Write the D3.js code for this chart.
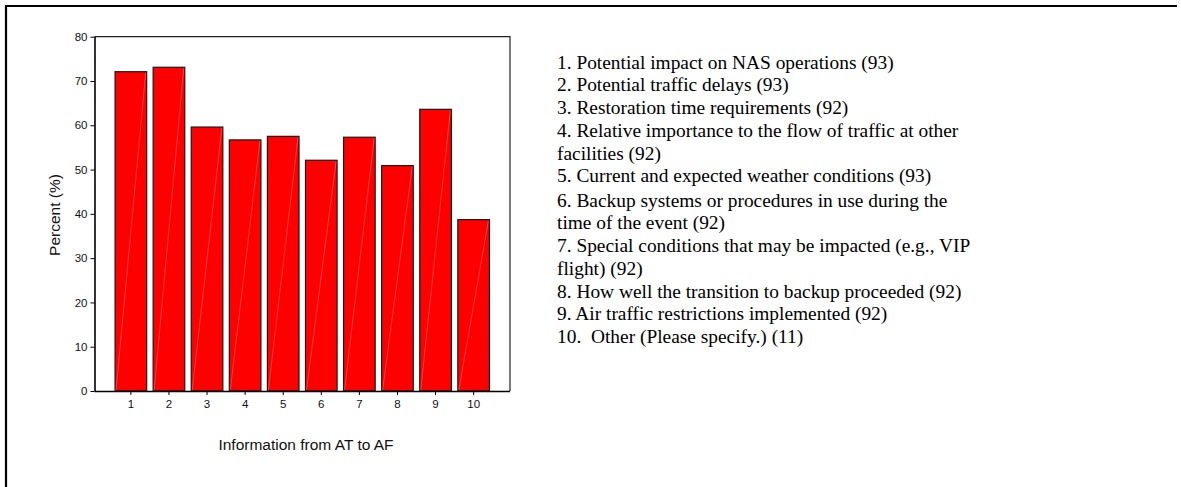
<!DOCTYPE html>
<html>
<head>
<meta charset="utf-8">
<script src="https://cdn.jsdelivr.net/npm/d3@7"></script>
<style>
  html, body { margin: 0; padding: 0; background: #fff; }
  svg { display: block; }
</style>
</head>
<body>
<svg id="chart" width="1181" height="487"></svg>
<script>
// ---- data ----
const categories = ["1", "2", "3", "4", "5", "6", "7", "8", "9", "10"];
const percentValues = [72.1, 73.1, 59.6, 56.7, 57.5, 52.1, 57.3, 50.9, 63.6, 38.7];
const yTickValues = [0, 10, 20, 30, 40, 50, 60, 70, 80];
const xAxisTitle = "Information from AT to AF";
const yAxisTitle = "Percent (%)";
// legend items, each split into its displayed lines
const legendItems = [
  ["1. Potential impact on NAS operations (93)"],
  ["2. Potential traffic delays (93)"],
  ["3. Restoration time requirements (92)"],
  ["4. Relative importance to the flow of traffic at other", "facilities (92)"],
  ["5. Current and expected weather conditions (93)"],
  ["6. Backup systems or procedures in use during the", "time of the event (92)"],
  ["7. Special conditions that may be impacted (e.g., VIP", "flight) (92)"],
  ["8. How well the transition to backup proceeded (92)"],
  ["9. Air traffic restrictions implemented (92)"],
  ["10.  Other (Please specify.) (11)"]
];

// ---- layout ----
const svg = d3.select("#chart");
const plot = { left: 94.5, right: 510, top: 36.7, bottom: 391 };
const sans = "'Liberation Sans', Arial, sans-serif";

// outer frame (top and left edges)
svg.append("path")
  .attr("d", "M6,487 L6,6 L1177,6")
  .attr("fill", "none").attr("stroke", "#000").attr("stroke-width", 2.2);

const x = d3.scaleBand().domain(categories)
  .range([plot.left, plot.right]).paddingInner(0.17).paddingOuter(0.54);
const y = d3.scaleLinear().domain([0, 80]).range([plot.bottom, plot.top]);

// plot box (top/right)
svg.append("path")
  .attr("d", `M${plot.left},${plot.top} L${plot.right},${plot.top} L${plot.right},${plot.bottom}`)
  .attr("fill", "none").attr("stroke", "#222").attr("stroke-width", 1.2);

// bars
const data = categories.map((c, i) => ({ c, v: percentValues[i] }));
const bars = svg.append("g");
bars.selectAll("rect").data(data).enter().append("rect")
  .attr("x", d => x(d.c))
  .attr("y", d => y(d.v))
  .attr("width", x.bandwidth())
  .attr("height", d => y(0) - y(d.v))
  .attr("fill", "#fe0000")
  .attr("stroke", "#1a1a1a")
  .attr("stroke-width", 1.2);
// faint diagonal artefact inside bars
bars.selectAll("line").data(data).enter().append("line")
  .attr("x1", d => x(d.c) + 1)
  .attr("y1", y(0) - 1)
  .attr("x2", d => x(d.c) + x.bandwidth() - 1)
  .attr("y2", d => y(d.v) + 1)
  .attr("stroke", "#fff").attr("stroke-opacity", 0.35).attr("stroke-width", 0.7);

// axes
const yAxis = svg.append("g")
  .attr("transform", `translate(${plot.left},0)`)
  .call(d3.axisLeft(y).tickValues(yTickValues).tickSize(4).tickPadding(3).tickFormat(d3.format("d")));
const xAxis = svg.append("g")
  .attr("transform", `translate(0,${plot.bottom})`)
  .call(d3.axisBottom(x).tickSize(4).tickPadding(5));
[yAxis, xAxis].forEach(g => {
  g.selectAll("text").attr("font-family", sans)
    .attr("font-size", 11.5).attr("fill", "#111");
  g.selectAll("line").attr("stroke", "#000");
  g.select(".domain").attr("stroke", "#000").attr("stroke-width", 1.6);
});
xAxis.select(".domain").attr("d", `M${plot.left},0.5H${plot.right}`);
yAxis.select(".domain").attr("d", `M0.5,${plot.bottom}V${plot.top}`);

// axis titles
svg.append("text")
  .attr("x", 306).attr("y", 450)
  .attr("text-anchor", "middle")
  .attr("font-family", sans).attr("font-size", 15.5)
  .attr("fill", "#111").text(xAxisTitle);
svg.append("text")
  .attr("transform", `translate(60,215) rotate(-90)`)
  .attr("text-anchor", "middle")
  .attr("font-family", sans).attr("font-size", 15.5)
  .attr("fill", "#111").text(yAxisTitle);

// legend text
const legend = svg.append("g")
  .attr("font-family", "'Liberation Serif', 'Times New Roman', serif")
  .attr("font-size", 19.4).attr("fill", "#000");
let lineIdx = 0;
const lineH = 22.75;
legendItems.forEach((lines, i) => {
  const extra = i >= 5 ? 1.5 : 0;
  lines.forEach(t => {
    legend.append("text")
      .attr("x", 557).attr("y", 68.5 + lineIdx * lineH + extra)
      .style("white-space", "pre")
      .text(t);
    lineIdx++;
  });
});
</script>
</body>
</html>
